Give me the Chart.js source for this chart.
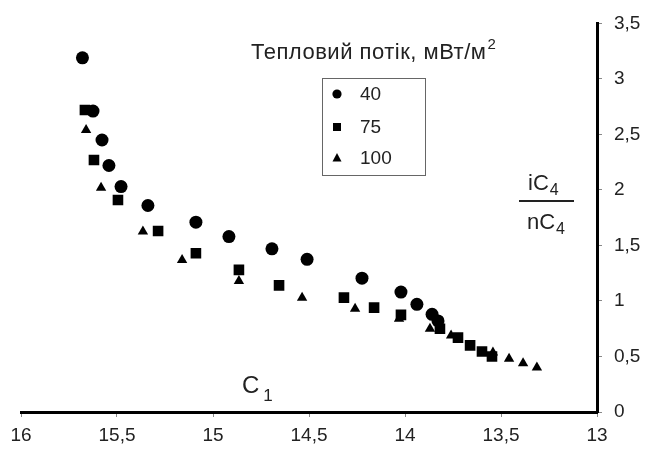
<!DOCTYPE html>
<html>
<head>
<meta charset="utf-8">
<script src="https://cdn.jsdelivr.net/npm/chart.js@4/dist/chart.umd.min.js"></script>
<style>
  html, body { margin: 0; padding: 0; background: #fff; overflow: hidden; }
  canvas { display: block; }
</style>
</head>
<body>
<canvas id="chart" width="680" height="450"></canvas>
<script>
const ctx = document.getElementById("chart").getContext("2d");

// heat flow, mW/m2
const labels = ["40", "75", "100"];

const c1_40 = [15.68, 15.625, 15.578, 15.542, 15.479, 15.339, 15.089, 14.917, 14.693, 14.51, 14.224, 14.021, 13.938, 13.859, 13.828];
const ratio_40 = [3.19, 2.71, 2.45, 2.22, 2.03, 1.86, 1.71, 1.58, 1.47, 1.375, 1.205, 1.08, 0.97, 0.88, 0.82];

const c1_75 = [15.667, 15.62, 15.495, 15.286, 15.089, 14.865, 14.656, 14.318, 14.161, 14.021, 13.818, 13.724, 13.661, 13.599, 13.547];
const ratio_75 = [2.72, 2.27, 1.91, 1.63, 1.43, 1.28, 1.14, 1.03, 0.94, 0.875, 0.75, 0.67, 0.60, 0.545, 0.50];

const c1_100 = [15.661, 15.583, 15.365, 15.161, 14.865, 14.536, 14.26, 14.031, 13.87, 13.76, 13.542, 13.458, 13.385, 13.313];
const ratio_100 = [2.54, 2.02, 1.625, 1.37, 1.18, 1.03, 0.93, 0.84, 0.75, 0.69, 0.535, 0.48, 0.44, 0.40];

const font = "Liberation Sans, Arial, sans-serif";

function toPoints(xs, ys) {
    return xs.map((x, i) => ({ x: x, y: ys[i] }));
}

function comma(v) {
    return String(v).replace(".", ",");
}

// legend box + titles drawn inside the plot
const annotations = {
    id: "annotations",
    afterDraw(chart) {
        const c = chart.ctx;
        c.save();
        c.fillStyle = "#222";
        c.textBaseline = "alphabetic";
        c.textAlign = "left";

        // heading
        c.font = "22px " + font;
        c.letterSpacing = "0.5px";
        const head = "Тепловий потік, мВт/м";
        c.fillText(head, 251, 59);
        const w = c.measureText(head).width;
        c.letterSpacing = "0px";
        c.font = "15px " + font;
        c.fillText("2", 251 + w + 1, 49);

        // legend
        c.strokeStyle = "#666";
        c.lineWidth = 1;
        c.strokeRect(322.5, 78.5, 103, 97);
        const rows = [94, 127, 158];
        chart.data.datasets.forEach((ds, i) => {
            const y = rows[i];
            c.fillStyle = "#000";
            c.beginPath();
            if (ds.pointStyle === "circle") {
                c.arc(337, y, 4.6, 0, 2 * Math.PI);
            } else if (ds.pointStyle === "rect") {
                c.rect(333, y - 4, 8, 8);
            } else {
                c.moveTo(337, y - 5);
                c.lineTo(341.5, y + 3.5);
                c.lineTo(332.5, y + 3.5);
                c.closePath();
            }
            c.fill();
            c.fillStyle = "#222";
            c.font = "19px " + font;
            c.textBaseline = "middle";
            c.fillText(ds.label, 360, y + 1);
            c.textBaseline = "alphabetic";
        });

        // y title as fraction
        c.fillStyle = "#222";
        c.font = "22px " + font;
        c.fillText("iC", 528, 190);
        let w1 = c.measureText("iC").width;
        c.font = "16px " + font;
        c.fillText("4", 528 + w1 + 1, 195);
        c.font = "22px " + font;
        c.fillText("nC", 527, 229);
        w1 = c.measureText("nC").width;
        c.font = "16px " + font;
        c.fillText("4", 527 + w1 + 1, 234);
        c.strokeStyle = "#222";
        c.lineWidth = 2;
        c.beginPath();
        c.moveTo(519, 201);
        c.lineTo(574, 201);
        c.stroke();

        // x title
        c.font = "24px " + font;
        c.fillText("C", 242, 393);
        const w2 = c.measureText("C").width;
        c.font = "17px " + font;
        c.fillText("1", 242 + w2 + 4, 401);
        c.restore();
    }
};

new Chart(ctx, {
    type: "scatter",
    data: {
        datasets: [{
            label: labels[0],
            data: toPoints(c1_40, ratio_40),
            pointStyle: "circle",
            pointRadius: 6.5,
            backgroundColor: "#000",
            borderWidth: 0
        }, {
            label: labels[1],
            data: toPoints(c1_75, ratio_75),
            pointStyle: "rect",
            pointRadius: 7.5,
            backgroundColor: "#000",
            borderWidth: 0
        }, {
            label: labels[2],
            data: toPoints(c1_100, ratio_100),
            pointStyle: "triangle",
            pointRadius: 6,
            backgroundColor: "#000",
            borderWidth: 0
        }]
    },
    options: {
        responsive: false,
        animation: false,
        devicePixelRatio: 1,
        layout: { padding: { left: 21, top: 20, right: 0, bottom: 0 } },
        plugins: {
            legend: { display: false },
            tooltip: { enabled: false }
        },
        elements: { point: { hoverRadius: 6 } },
        scales: {
            x: {
                type: "linear",
                position: "bottom",
                reverse: true,
                min: 13,
                max: 16,
                ticks: {
                    stepSize: 0.5,
                    color: "#222",
                    padding: 7,
                    maxRotation: 0,
                    font: { family: font, size: 19 },
                    callback: v => comma(v)
                },
                grid: {
                    drawOnChartArea: false,
                    tickLength: 5,
                    tickColor: "#888",
                    tickWidth: 1
                },
                border: { display: true, color: "#000", width: 3 },
                afterFit: s => { s.height = 38; }
            },
            y: {
                type: "linear",
                position: "right",
                min: 0,
                max: 3.5,
                ticks: {
                    stepSize: 0.5,
                    color: "#222",
                    padding: 12,
                    font: { family: font, size: 19 },
                    callback: v => comma(v)
                },
                grid: {
                    drawOnChartArea: false,
                    tickLength: 5,
                    tickColor: "#888",
                    tickWidth: 1
                },
                border: { display: true, color: "#000", width: 3 },
                afterFit: s => { s.width = 83; }
            }
        }
    },
    plugins: [annotations]
});
</script>
</body>
</html>
